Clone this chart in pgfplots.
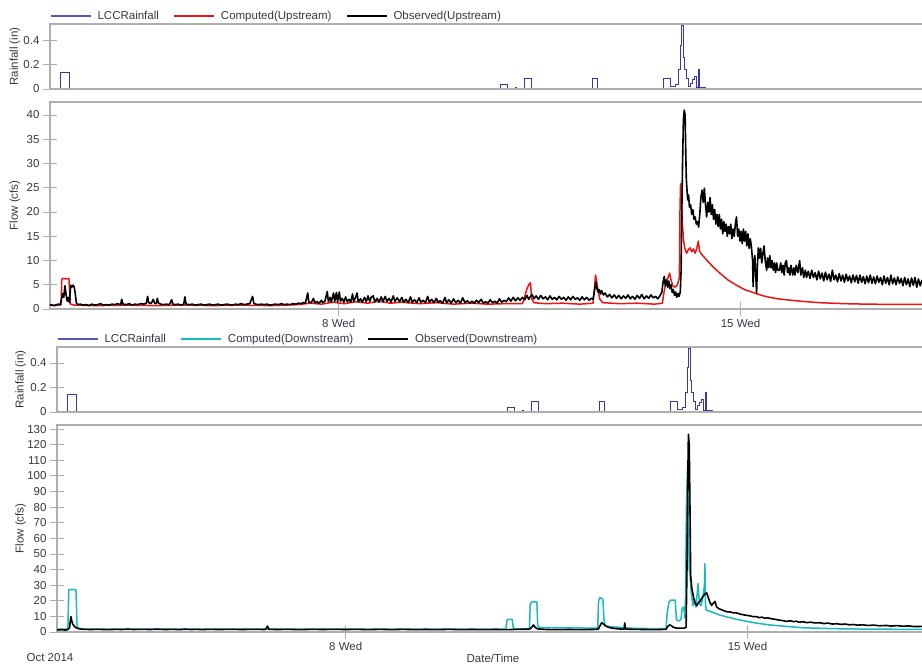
\documentclass[border=0pt]{standalone}
\usepackage{fontspec}
\setmainfont{Liberation Sans}
\usepackage{pgfplots}
\pgfplotsset{compat=1.18}
\usepackage{pgfplotstable}

\definecolor{rainblue}{RGB}{55,55,165}
\definecolor{rainlegend}{RGB}{85,85,190}
\definecolor{compred}{RGB}{238,20,20}
\definecolor{compcyan}{RGB}{25,185,190}
\definecolor{txt}{RGB}{55,55,68}
\definecolor{frame}{RGB}{175,175,175}

\newcommand{\cf}{\fontsize{11.5}{13.5}\selectfont}

% time axis: days after 1 Oct 2014 00:00
\pgfplotstableread[row sep=\\]{
d v\\
1.97 0\\ 2.144 0\\ 2.144 0.14\\ 2.30 0.14\\ 2.30 0\\
9.82 0\\ 9.82 0.04\\ 9.94 0.04\\ 9.94 0\\
10.07 0\\ 10.07 0.01\\ 10.09 0.01\\ 10.09 0\\
10.23 0\\ 10.23 0.09\\ 10.35 0.09\\ 10.35 0\\
11.42 0\\ 11.42 0.09\\ 11.51 0.09\\ 11.51 0\\
12.655 0\\ 12.655 0.09\\ 12.78 0.09\\ 12.78 0.02\\ 12.86 0.02\\ 12.86 0.04\\
12.92 0.04\\ 12.92 0.16\\ 12.95 0.16\\ 12.95 0.36\\ 12.975 0.36\\ 12.975 0.52\\
13.0 0.52\\ 13.0 0.26\\ 13.03 0.26\\ 13.03 0.16\\ 13.06 0.16\\ 13.06 0.09\\
13.09 0.09\\ 13.09 0.02\\ 13.12 0.02\\ 13.12 0.05\\ 13.16 0.05\\ 13.16 0.08\\
13.2 0.08\\ 13.2 0.1\\ 13.23 0.1\\ 13.23 0.01\\ 13.26 0.01\\ 13.26 0.16\\
13.29 0.16\\ 13.29 0.01\\ 13.38 0.01\\ 13.38 0\\ 17.3 0\\
}\rainT

\pgfplotstableread[row sep=\\]{
d v\\
1.97 0.8\\ 2.05 0.7\\ 2.12 0.8\\ 2.165 0.9\\ 2.175 6.0\\ 2.19 6.3\\ 2.25 6.2\\ 2.30 6.3\\
2.325 1.0\\ 2.40 0.8\\ 2.8 0.7\\ 3.3 0.8\\ 3.8 0.7\\ 4.3 0.8\\ 4.8 0.7\\ 5.3 0.8\\
5.8 0.7\\ 6.3 0.9\\ 6.5 1.2\\ 6.7 1.0\\ 6.9 1.4\\ 7.1 1.1\\ 7.3 1.5\\ 7.5 1.2\\
7.7 1.6\\ 7.9 1.2\\ 8.1 1.4\\ 8.4 1.1\\ 8.7 1.3\\ 9.0 1.0\\ 9.3 1.2\\ 9.6 1.0\\
9.9 1.1\\ 10.2 1.1\\ 10.24 2.5\\ 10.28 4.2\\ 10.32 5.2\\ 10.34 5.4\\ 10.36 2.2\\
10.40 1.3\\ 10.6 1.1\\ 10.9 1.2\\ 11.2 1.0\\ 11.43 1.2\\ 11.45 3.5\\ 11.475 7.0\\
11.50 5.2\\ 11.52 3.7\\ 11.55 2.0\\ 11.60 1.3\\ 11.9 1.1\\ 12.2 1.2\\ 12.5 1.0\\
12.64 1.2\\ 12.66 3.0\\ 12.70 5.5\\ 12.735 6.4\\ 12.765 7.4\\ 12.785 6.2\\
12.82 4.8\\ 12.86 4.5\\ 12.90 5.0\\ 12.935 6.5\\ 12.945 20\\ 12.955 25.8\\
12.97 22\\ 12.99 17\\ 13.01 14\\ 13.03 12.5\\ 13.06 11.5\\ 13.09 12.2\\
13.12 12.6\\ 13.15 11.8\\ 13.18 12.4\\ 13.21 11.5\\ 13.24 12.6\\ 13.265 14.0\\
13.285 12.0\\ 13.32 11.3\\ 13.41 10.1\\ 13.52 8.7\\ 13.64 7.4\\ 13.78 6.0\\
13.93 4.9\\ 14.07 4.0\\ 14.22 3.4\\ 14.37 2.8\\ 14.51 2.4\\ 14.65 2.1\\
14.8 1.9\\ 15.1 1.55\\ 15.385 1.3\\ 15.7 1.15\\ 15.965 1.05\\ 16.55 0.95\\ 17.25 0.93\\
}\upCompT

\pgfplotstableread[row sep=\\]{
d v\\
1.97 0.8\\ 2.00 0.9\\ 2.04 0.7\\ 2.08 0.9\\ 2.12 1.0\\ 2.15 0.9\\ 2.17 2.1\\ 2.19 3.2\\
2.21 2.4\\ 2.23 4.8\\ 2.25 3.0\\ 2.27 1.6\\ 2.29 2.4\\ 2.31 1.3\\ 2.33 4.9\\ 2.35 4.5\\
2.37 4.9\\ 2.39 4.6\\ 2.41 3.2\\ 2.43 1.2\\ 2.46 0.9\\
2.50 1.0\\ 2.55 0.8\\ 2.60 0.9\\ 2.65 0.7\\ 2.70 1.0\\ 2.75 0.8\\ 2.80 0.9\\ 2.85 1.1\\
2.90 0.8\\ 2.95 0.9\\ 3.00 0.8\\ 3.05 1.0\\ 3.10 0.9\\ 3.15 1.1\\ 3.20 0.9\\ 3.22 2.0\\
3.24 1.0\\ 3.30 0.9\\ 3.35 1.1\\ 3.40 0.8\\ 3.45 1.0\\ 3.50 0.9\\ 3.55 1.1\\ 3.60 1.0\\
3.65 1.2\\ 3.67 2.6\\ 3.69 1.3\\ 3.73 1.1\\ 3.77 2.0\\ 3.79 1.2\\ 3.82 1.1\\ 3.84 2.2\\
3.86 1.2\\ 3.90 1.0\\ 3.95 0.9\\ 4.00 1.0\\ 4.05 0.9\\ 4.09 1.9\\ 4.11 1.0\\ 4.15 0.9\\
4.20 1.0\\ 4.25 0.8\\ 4.30 1.0\\ 4.32 2.5\\ 4.34 1.0\\ 4.40 0.9\\ 4.45 1.0\\ 4.50 0.8\\
4.55 0.9\\ 4.60 1.0\\ 4.65 0.8\\ 4.70 0.9\\ 4.75 1.0\\ 4.80 0.8\\ 4.85 0.9\\ 4.90 1.0\\
4.95 0.8\\ 5.00 0.9\\ 5.05 1.0\\ 5.10 0.9\\ 5.15 0.8\\ 5.20 1.0\\ 5.25 0.9\\ 5.30 1.1\\
5.35 0.9\\ 5.40 1.0\\ 5.45 1.1\\ 5.50 2.6\\ 5.52 1.2\\ 5.55 1.0\\ 5.60 0.9\\ 5.65 1.0\\
5.70 0.9\\ 5.75 1.0\\ 5.80 0.8\\ 5.85 0.9\\ 5.90 1.0\\ 5.95 0.9\\ 6.00 1.1\\ 6.05 0.9\\
6.10 1.0\\ 6.15 0.9\\ 6.20 1.1\\ 6.25 1.0\\ 6.30 1.2\\
6.34 1.1\\ 6.38 1.3\\ 6.42 1.2\\ 6.46 3.3\\ 6.48 1.4\\ 6.52 1.3\\ 6.56 2.2\\ 6.58 1.3\\
6.62 1.5\\ 6.66 1.2\\ 6.70 1.8\\ 6.72 1.3\\ 6.76 1.6\\ 6.80 3.6\\ 6.82 1.5\\ 6.85 2.4\\
6.87 1.4\\ 6.91 3.3\\ 6.93 1.6\\ 6.96 3.4\\ 6.98 1.5\\ 7.01 3.5\\ 7.03 1.6\\ 7.06 2.2\\
7.09 1.4\\ 7.12 2.5\\ 7.15 1.5\\ 7.18 2.0\\ 7.21 1.4\\ 7.24 3.1\\ 7.26 1.6\\ 7.29 2.3\\
7.32 3.3\\ 7.34 1.5\\ 7.38 2.1\\ 7.41 1.4\\ 7.45 2.4\\ 7.48 1.5\\ 7.51 2.7\\ 7.54 1.6\\
7.57 2.5\\ 7.60 2.7\\ 7.63 1.5\\ 7.67 2.2\\ 7.70 1.4\\ 7.74 2.5\\ 7.77 1.5\\ 7.81 2.6\\
7.84 1.6\\ 7.88 2.2\\ 7.91 1.4\\ 7.95 2.7\\ 7.98 1.6\\ 8.02 2.3\\
8.06 1.5\\ 8.10 2.4\\ 8.13 1.4\\ 8.17 2.0\\ 8.21 1.3\\ 8.25 2.5\\ 8.28 1.4\\ 8.32 1.9\\
8.36 1.3\\ 8.40 2.3\\ 8.43 1.4\\ 8.47 1.8\\ 8.51 1.3\\ 8.55 2.6\\ 8.58 1.4\\ 8.62 2.0\\
8.66 1.3\\ 8.70 2.2\\ 8.73 1.4\\ 8.77 1.7\\ 8.81 1.2\\ 8.85 2.4\\ 8.88 1.3\\ 8.92 1.9\\
8.96 1.2\\ 9.00 2.1\\ 9.04 1.3\\ 9.08 1.8\\ 9.12 1.2\\ 9.16 2.3\\ 9.20 1.3\\ 9.24 1.7\\
9.28 1.2\\ 9.32 1.6\\ 9.36 1.2\\ 9.40 1.8\\ 9.44 1.3\\ 9.48 2.0\\ 9.52 1.2\\ 9.56 1.5\\
9.60 1.2\\ 9.64 1.9\\ 9.68 1.3\\ 9.72 1.6\\ 9.76 1.2\\ 9.80 2.1\\ 9.84 1.4\\ 9.88 1.8\\
9.92 1.5\\ 9.96 2.3\\ 10.00 1.6\\ 10.04 2.4\\ 10.08 1.7\\ 10.12 2.3\\ 10.16 1.8\\
10.20 2.4\\ 10.24 1.9\\ 10.28 2.8\\ 10.31 2.0\\ 10.34 2.6\\ 10.37 3.0\\ 10.40 2.1\\
10.44 2.7\\ 10.48 2.0\\ 10.52 2.8\\ 10.56 2.1\\ 10.60 2.5\\ 10.64 1.9\\ 10.68 2.7\\
10.72 2.0\\ 10.76 2.4\\ 10.80 1.9\\ 10.84 2.6\\ 10.88 2.0\\ 10.92 2.4\\ 10.96 1.8\\
11.00 2.5\\ 11.04 1.9\\ 11.08 2.6\\ 11.12 2.0\\ 11.16 2.3\\ 11.20 1.8\\ 11.24 2.5\\
11.28 1.9\\ 11.32 2.4\\ 11.36 1.8\\ 11.40 2.2\\ 11.43 2.0\\
11.46 4.0\\ 11.48 5.6\\ 11.50 4.2\\ 11.52 3.5\\ 11.54 4.0\\ 11.56 3.1\\ 11.58 3.8\\ 11.61 2.9\\
11.64 3.3\\ 11.68 2.5\\ 11.72 3.0\\ 11.76 2.3\\ 11.80 2.9\\ 11.84 2.2\\ 11.88 2.8\\
11.92 2.1\\ 11.96 2.7\\ 12.00 2.2\\ 12.04 2.9\\ 12.08 2.1\\ 12.12 2.6\\ 12.16 2.0\\
12.20 2.8\\ 12.24 2.2\\ 12.28 3.0\\ 12.32 2.1\\ 12.36 2.7\\ 12.40 2.2\\ 12.44 2.9\\
12.48 2.3\\ 12.52 2.6\\ 12.56 2.1\\ 12.60 2.8\\
12.63 3.5\\ 12.65 5.5\\ 12.67 6.7\\ 12.69 4.8\\ 12.71 6.0\\ 12.73 4.5\\ 12.75 5.8\\
12.77 4.2\\ 12.79 5.0\\ 12.81 3.4\\ 12.83 4.0\\ 12.85 2.8\\ 12.87 3.5\\ 12.89 2.4\\
12.91 3.2\\ 12.93 2.6\\ 12.95 3.5\\ 12.965 8.0\\ 12.975 18.0\\ 12.99 30\\ 13.005 39\\
13.02 41\\ 13.035 40\\ 13.045 33\\ 13.055 27\\ 13.065 25\\ 13.08 22.5\\ 13.095 23.5\\
13.11 21\\ 13.13 21.5\\ 13.15 19.5\\ 13.17 20.5\\ 13.19 18.5\\ 13.21 19.0\\ 13.23 17.5\\
13.25 18.0\\ 13.27 16.9\\ 13.29 19.5\\ 13.31 23.0\\ 13.33 24.5\\ 13.35 22.0\\ 13.37 24.9\\
13.39 21.5\\ 13.41 19.0\\ 13.43 22.0\\ 13.45 20.0\\ 13.47 23.0\\ 13.49 19.5\\ 13.51 21.5\\
13.53 18.5\\ 13.55 20.5\\ 13.57 17.5\\ 13.59 19.5\\ 13.61 17.0\\ 13.63 19.5\\ 13.65 16.5\\
13.67 18.5\\ 13.69 15.5\\ 13.71 18.0\\ 13.73 16.0\\ 13.75 17.5\\ 13.77 15.0\\ 13.79 17.0\\
13.81 15.5\\ 13.83 17.5\\ 13.85 14.5\\ 13.87 16.5\\ 13.89 15.0\\ 13.91 17.5\\ 13.93 19.0\\
13.95 15.0\\ 13.97 16.5\\ 13.99 14.0\\ 14.01 16.0\\ 14.03 13.5\\ 14.05 16.5\\ 14.07 14.0\\
14.09 16.0\\ 14.11 13.0\\ 14.13 15.5\\ 14.15 12.5\\ 14.17 14.5\\ 14.19 12.8\\ 14.21 10.0\\
14.22 4.6\\ 14.235 9.5\\ 14.25 11.0\\ 14.265 7.0\\ 14.28 3.3\\ 14.295 9.0\\ 14.31 12.6\\
14.33 10.5\\ 14.35 12.5\\ 14.37 9.5\\ 14.39 11.5\\ 14.41 13.0\\ 14.43 10.0\\ 14.455 8.0\\
14.47 10.5\\ 14.49 8.5\\ 14.51 11.0\\ 14.53 8.5\\ 14.55 10.0\\ 14.57 8.0\\ 14.59 9.5\\
14.61 7.5\\ 14.63 9.5\\ 14.65 8.0\\ 14.68 8.0\\ 14.70 9.5\\ 14.72 7.5\\ 14.74 9.0\\
14.76 7.0\\ 14.78 9.5\\ 14.80 10.0\\ 14.82 7.5\\ 14.84 8.5\\ 14.86 7.0\\ 14.88 9.0\\
14.91 7.0\\ 14.93 8.5\\ 14.95 7.0\\ 14.97 9.0\\ 15.00 7.5\\ 15.03 10.0\\ 15.05 7.0\\
15.08 8.5\\ 15.10 6.5\\ 15.13 8.0\\ 15.15 6.5\\ 15.18 7.8\\ 15.21 6.3\\ 15.24 8.0\\
15.27 6.5\\ 15.30 7.5\\ 15.33 6.0\\ 15.36 7.8\\ 15.39 6.2\\ 15.42 7.4\\ 15.45 5.8\\
15.48 7.6\\ 15.51 6.0\\ 15.54 7.2\\ 15.57 5.7\\ 15.60 8.0\\ 15.63 6.0\\ 15.66 7.0\\
15.69 5.6\\ 15.72 7.3\\ 15.75 5.8\\ 15.78 7.0\\ 15.81 5.5\\ 15.84 7.2\\ 15.87 5.8\\
15.90 6.8\\ 15.93 5.4\\ 15.96 7.0\\ 15.99 5.6\\ 16.02 6.9\\ 16.05 5.3\\ 16.08 7.0\\
16.11 5.5\\ 16.14 6.7\\ 16.17 5.2\\ 16.20 6.8\\ 16.23 5.4\\ 16.26 7.0\\ 16.29 5.3\\
16.32 6.6\\ 16.35 5.2\\ 16.38 6.8\\ 16.41 5.5\\ 16.44 6.5\\ 16.47 5.0\\ 16.50 6.8\\
16.53 5.3\\ 16.56 6.5\\ 16.59 5.0\\ 16.62 7.0\\ 16.65 5.2\\ 16.68 6.4\\ 16.71 5.0\\
16.74 6.6\\ 16.77 5.3\\ 16.80 6.3\\ 16.83 4.8\\ 16.86 6.5\\ 16.89 5.0\\ 16.92 6.2\\
16.95 4.6\\ 16.98 6.4\\ 17.01 4.9\\ 17.04 6.5\\ 17.07 4.5\\ 17.10 6.2\\ 17.13 4.8\\
17.16 5.9\\ 17.19 4.7\\ 17.22 6.0\\
}\upObsT

\pgfplotstableread[row sep=\\]{
d v\\
1.97 1.8\\ 2.16 1.8\\ 2.175 27.2\\ 2.30 27.2\\ 2.32 3.0\\ 2.36 2.0\\ 2.5 1.8\\
4.0 1.8\\ 6.0 1.8\\ 8.0 1.8\\ 9.79 1.9\\ 9.81 7.5\\ 9.83 8.1\\ 9.90 8.1\\ 9.92 2.5\\
9.96 2.0\\ 10.20 2.0\\ 10.215 18\\ 10.24 19.3\\ 10.33 19.3\\ 10.345 4.0\\ 10.38 2.8\\
11.0 2.6\\ 11.39 2.5\\ 11.405 20\\ 11.43 22.1\\ 11.48 21\\ 11.50 8\\ 11.52 4\\
11.6 3.4\\ 11.8 2.9\\ 12.0 2.4\\ 12.3 2.2\\ 12.58 2.2\\ 12.60 12\\ 12.63 19\\
12.66 20.4\\ 12.74 20.4\\ 12.76 8\\ 12.80 7\\ 12.84 8\\ 12.86 15\\ 12.89 16\\
12.905 9\\ 12.92 20\\ 12.935 80\\ 12.955 105.4\\ 12.97 70\\ 12.985 40\\ 13.0 37\\
13.02 25\\ 13.05 17\\ 13.085 20.6\\ 13.10 16\\ 13.14 31\\ 13.16 18\\ 13.19 17\\
13.22 22\\ 13.25 30\\ 13.258 43.8\\ 13.265 20\\ 13.28 14\\ 13.32 13.6\\ 13.52 10.8\\
13.81 8.1\\ 14.1 6.0\\ 14.39 4.5\\ 14.68 3.6\\ 14.97 2.7\\ 15.55 2.1\\ 16.2 1.8\\
17.10 1.7\\
}\dnCompT

\pgfplotstableread[row sep=\\]{
d v\\
1.97 1.3\\ 2.05 1.5\\ 2.12 1.2\\ 2.17 1.8\\ 2.19 3.0\\ 2.205 8.0\\ 2.215 9.8\\
2.225 7.5\\ 2.24 5.5\\ 2.26 4.2\\ 2.29 3.0\\ 2.33 2.3\\ 2.38 1.9\\ 2.45 1.7\\
2.55 1.6\\ 2.7 1.7\\ 2.85 1.5\\ 3.0 1.7\\ 3.1 1.6\\ 3.2 1.8\\ 3.3 1.6\\ 3.45 1.7\\
3.6 1.6\\ 3.7 1.8\\ 3.85 1.6\\ 4.0 1.7\\ 4.1 1.5\\ 4.2 1.8\\ 4.3 1.6\\ 4.4 1.7\\
4.5 1.5\\ 4.6 1.7\\ 4.8 1.6\\ 5.0 1.7\\ 5.2 1.6\\ 5.4 1.7\\ 5.6 1.6\\ 5.64 3.8\\
5.66 1.7\\ 5.8 1.6\\ 6.0 1.7\\ 6.2 1.5\\ 6.4 1.7\\ 6.6 1.6\\ 6.8 1.7\\ 7.0 1.6\\
7.2 1.7\\ 7.4 1.5\\ 7.6 1.7\\ 7.8 1.5\\ 8.0 1.7\\ 8.2 1.5\\ 8.4 1.6\\ 8.6 1.5\\
8.8 1.7\\ 9.0 1.5\\ 9.2 1.6\\ 9.4 1.5\\ 9.6 1.6\\ 9.8 1.5\\ 10.0 1.7\\ 10.2 1.8\\
10.24 3.0\\ 10.27 4.5\\ 10.30 3.0\\ 10.34 2.0\\ 10.5 1.6\\ 10.7 1.5\\ 10.9 1.6\\
11.1 1.5\\ 11.3 1.6\\ 11.40 1.8\\ 11.43 4.0\\ 11.46 6.0\\ 11.49 5.2\\ 11.53 3.8\\
11.58 3.0\\ 11.65 2.4\\ 11.75 2.0\\ 11.85 1.8\\ 11.86 5.8\\ 11.875 1.9\\ 12.0 1.7\\
12.2 1.6\\ 12.4 1.5\\ 12.58 1.7\\ 12.61 3.5\\ 12.64 4.5\\ 12.67 4.2\\ 12.70 3.2\\
12.75 2.6\\ 12.80 2.4\\ 12.85 2.5\\ 12.90 2.5\\ 12.93 3.0\\ 12.945 40\\ 12.96 100\\
12.97 126.6\\ 12.985 120\\ 12.998 77.7\\ 13.01 36\\ 13.03 28\\ 13.056 23\\ 13.08 19\\
13.115 16.8\\ 13.14 18.5\\ 13.172 19.6\\ 13.20 21.5\\ 13.23 23\\ 13.26 24.5\\
13.289 25\\ 13.317 22\\ 13.345 19\\ 13.376 17\\ 13.405 18.5\\ 13.433 19.6\\
13.462 16\\ 13.50 15\\ 13.55 14.2\\ 13.60 13.5\\ 13.637 13\\ 13.70 12.8\\ 13.75 12.3\\
13.811 12.2\\ 13.87 11.5\\ 13.93 11.0\\ 14.0 10.6\\ 14.05 10.3\\ 14.1 9.8\\
14.15 9.9\\ 14.2 9.2\\ 14.25 9.5\\ 14.3 8.8\\ 14.35 9.1\\ 14.39 8.7\\ 14.45 8.3\\
14.5 8.0\\ 14.55 7.6\\ 14.6 7.4\\ 14.68 6.8\\ 14.75 7.2\\ 14.8 6.6\\ 14.85 6.9\\
14.9 6.3\\ 14.97 6.6\\ 15.03 6.0\\ 15.1 6.3\\ 15.17 5.8\\ 15.263 5.9\\ 15.33 5.4\\
15.4 5.7\\ 15.48 5.1\\ 15.553 5.3\\ 15.63 4.9\\ 15.7 5.1\\ 15.77 4.6\\ 15.843 4.8\\
15.92 4.4\\ 16.0 4.6\\ 16.1 4.2\\ 16.2 4.4\\ 16.3 4.0\\ 16.424 4.2\\ 16.5 3.8\\
16.6 4.1\\ 16.7 3.7\\ 16.8 3.9\\ 16.9 3.5\\ 17.10 3.6\\
}\dnObsT

\pgfplotsset{
  hydro/.style={
    scale only axis,
    anchor=north west,
    axis line style={draw=frame, line width=1.1pt},
    tick align=center,
    tick pos=left,
    major tick length=14pt,
    ytick style={draw=frame, line width=0.8pt},
    xtick style={draw=frame, line width=0.8pt},
    tick label style={font=\cf, text=txt},
    /pgf/number format/assume math mode=true,
    every axis y label/.style={font=\cf, text=txt, rotate=90, anchor=center},
    every axis x label/.style={font=\cf, text=txt},
    ymin=0,
    clip=true,
  },
  rainaxis/.style={
    hydro, height=65pt, ymax=0.533, ytick={0,0.2,0.4},
    xtick=\empty, axis on top, ylabel={Rainfall (in)},
    legend style={draw=none, fill=none, at={(0,1)}, anchor=south west,
      yshift=1pt, font=\cf, text=txt, legend columns=-1, inner sep=0pt,
      /tikz/every even column/.append style={column sep=12pt}},
    legend image code/.code={\draw[##1] (0pt,0pt) -- (40pt,0pt); \path (44pt,0pt);},
  },
  flowaxis/.style={
    hydro, height=207pt, xtick={7,14}, xticklabels={8 Wed,15 Wed},
    ylabel={Flow (cfs)},
  },
}

\begin{document}
\begin{tikzpicture}
\useasboundingbox (0,0) rectangle (922pt,-664pt);

% ---------- upstream ----------
\begin{axis}[rainaxis, at={(50pt,-24pt)}, width=875pt,
    xmin=1.97, xmax=17.214,
    every axis y label/.append style={at={(axis description cs:-0.04,0.5)}}]
  \addplot[rainblue, line width=0.8pt, forget plot] table[x=d, y=v] {\rainT};
  \addlegendimage{rainlegend, line width=1.4pt}
  \addlegendentry{LCCRainfall}
  \addlegendimage{compred, line width=2pt}
  \addlegendentry{Computed(Upstream)}
  \addlegendimage{black, line width=2pt}
  \addlegendentry{Observed(Upstream)}
\end{axis}

\begin{axis}[flowaxis, at={(50pt,-102pt)}, width=875pt,
    xmin=1.97, xmax=17.214, ymax=42.68, ytick={0,5,...,40},
    every axis y label/.append style={at={(axis description cs:-0.04,0.5)}}]
  \addplot[compred, line width=1.5pt, line join=round] table[x=d, y=v] {\upCompT};
  \addplot[black, line width=1.6pt, line join=round] table[x=d, y=v] {\upObsT};
\end{axis}

% ---------- downstream ----------
\begin{axis}[rainaxis, at={(57pt,-347pt)}, width=868pt,
    xmin=1.97, xmax=17.092, ymax=0.53,
    every axis y label/.append style={at={(axis description cs:-0.042,0.5)}}]
  \addplot[rainblue, line width=0.8pt, forget plot] table[x=d, y=v] {\rainT};
  \addlegendimage{rainlegend, line width=1.4pt}
  \addlegendentry{LCCRainfall}
  \addlegendimage{compcyan, line width=2pt}
  \addlegendentry{Computed(Downstream)}
  \addlegendimage{black, line width=2pt}
  \addlegendentry{Observed(Downstream)}
\end{axis}

\begin{axis}[flowaxis, at={(57pt,-425pt)}, width=868pt,
    xmin=1.97, xmax=17.092, ymax=132.6, ytick={0,10,...,130},
    every axis y label/.append style={at={(axis description cs:-0.042,0.5)}}]
  \addplot[compcyan, line width=1.5pt, line join=round] table[x=d, y=v] {\dnCompT};
  \addplot[black, line width=1.6pt, line join=round] table[x=d, y=v] {\dnObsT};
\end{axis}

\node[font=\cf, text=txt] at (50pt,-658pt) {Oct 2014};
\node[font=\cf, text=txt] at (493pt,-658pt) {Date/Time};
\end{tikzpicture}
\end{document}
